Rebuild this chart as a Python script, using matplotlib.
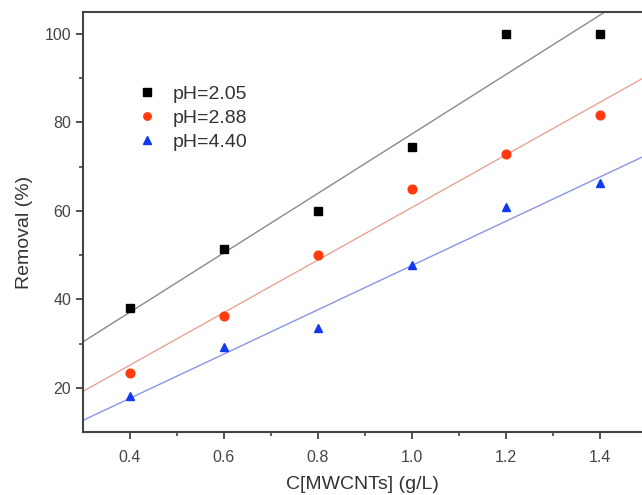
import numpy as np
import matplotlib.pyplot as plt

plt.rcParams['font.family'] = ['Liberation Sans', 'DejaVu Sans']

dose = [0.4, 0.6, 0.8, 1.0, 1.2, 1.4]
removal_205 = [38.0, 51.5, 60.0, 74.5, 100.0, 100.0]
removal_288 = [23.4, 36.2, 50.0, 65.0, 72.8, 81.6]
removal_440 = [18.2, 29.2, 33.5, 47.7, 61.0, 66.3]
labels = ['pH=2.05', 'pH=2.88', 'pH=4.40']

fig = plt.figure(figsize=(6.42, 4.95), dpi=100)
ax = fig.add_axes([0.129, 0.127, 0.871, 0.849])

xlim = (0.3, 1.49)
ylim = (10, 105)
xfit = np.linspace(xlim[0], xlim[1], 50)

series = [
    (removal_205, 's', 'black', '#8a8a8a'),
    (removal_288, 'o', '#ff3b0f', '#e9a595'),
    (removal_440, '^', '#1238f0', '#8796e6'),
]
for (vals, marker, mc, lc), lab in zip(series, labels):
    k, b = np.polyfit(dose, vals, 1)
    ax.plot(xfit, k * xfit + b, color=lc, lw=1.0, zorder=2)
    ax.plot(dose, vals, linestyle='none', marker=marker, color=mc,
            markersize=6.3, label=lab, zorder=3)

ax.set_xlim(*xlim)
ax.set_ylim(*ylim)
ax.set_xticks([0.4, 0.6, 0.8, 1.0, 1.2, 1.4])
ax.set_xticks([0.5, 0.7, 0.9, 1.1, 1.3], minor=True)
ax.set_yticks([20, 40, 60, 80, 100])
ax.set_yticks([30, 50, 70, 90], minor=True)
ax.set_xticklabels(['0.4', '0.6', '0.8', '1.0', '1.2', '1.4'])

for s in ['left', 'bottom', 'top']:
    ax.spines[s].set_linewidth(1.5)
    ax.spines[s].set_color('#444444')
ax.spines['right'].set_visible(False)

ax.tick_params(which='major', direction='out', length=5, width=1.3,
               color='#444444', labelsize=11.5, labelcolor='#444444')
ax.tick_params(which='minor', direction='out', length=3, width=1.2,
               color='#444444')
ax.tick_params(axis='x', pad=8)

ax.set_xlabel('C[MWCNTs] (g/L)', fontsize=14, color='#333333', labelpad=8)
ax.set_ylabel('Removal (%)', fontsize=14, color='#333333')
ax.yaxis.set_label_coords(-0.089, 0.474)

ax.legend(loc='upper left', bbox_to_anchor=(0.066, 0.867), frameon=False,
          fontsize=14, handlelength=1.0, handletextpad=0.8,
          labelspacing=0.33, markerscale=0.85, labelcolor='#333333')

fig.savefig('out.png', dpi=100)
